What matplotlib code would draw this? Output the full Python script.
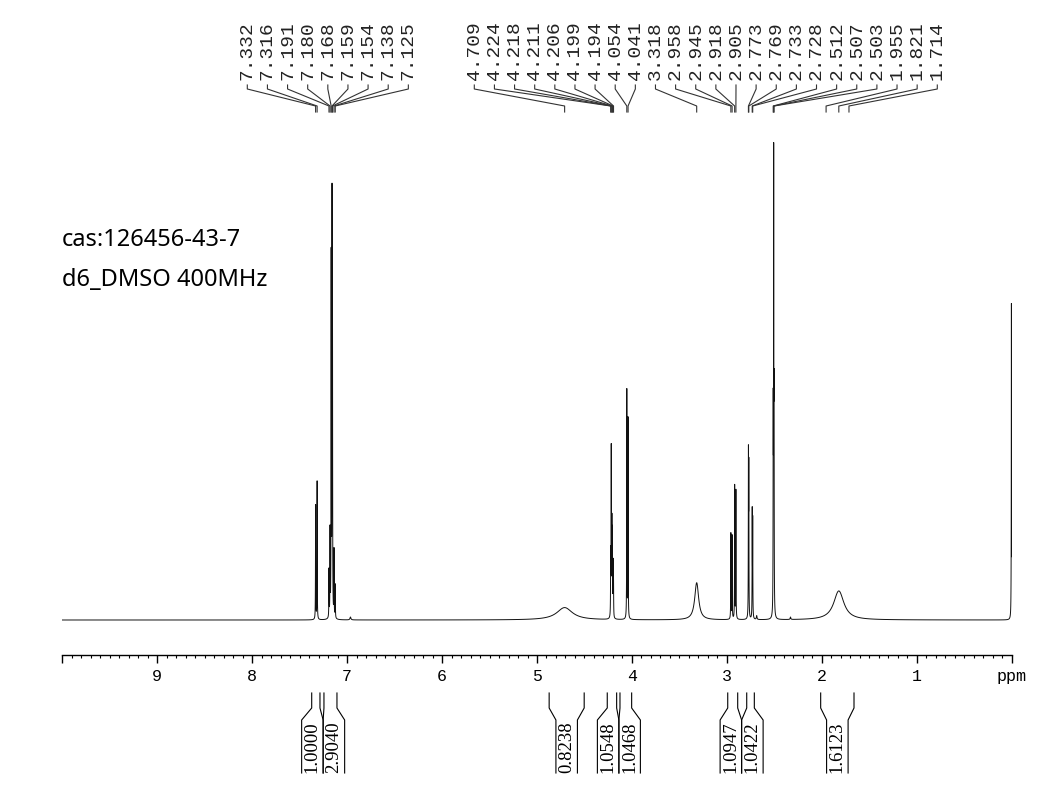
import numpy as np
import matplotlib
matplotlib.use("Agg")
import matplotlib.pyplot as plt
from matplotlib.transforms import blended_transform_factory

# 1H NMR, d6-DMSO 400 MHz
SAMPLE_TEXT = ["cas:126456-43-7", "d6_DMSO 400MHz"]

# resolved lines: position (ppm), height (DMSO = 100), half width (ppm)
peak_ppm = [7.332, 7.316, 7.191, 7.180, 7.168, 7.159, 7.154, 7.138, 7.125, 6.965,
            4.709, 4.224, 4.218, 4.211, 4.206, 4.199, 4.194, 4.054, 4.041,
            3.318, 2.958, 2.945, 2.918, 2.905, 2.773, 2.769, 2.733, 2.728, 2.686,
            2.512, 2.507, 2.503, 2.330, 1.821, 0.003]
peak_height = [24, 29, 10, 18, 75, 85, 55, 14, 7, 0.6,
               2.6, 13, 35, 19, 17, 11, 7, 48, 42,
               7.8, 18, 17.5, 28, 27, 33, 30, 22, 20, 0.8,
               40, 92, 40, 0.5, 6.1, 66.5]
peak_hwhm = [0.0015] * 9 + [0.006,
             0.1] + [0.0015] * 8 + [
             0.025] + [0.0015] * 8 + [0.004,
             0.0015, 0.0015, 0.0015, 0.004, 0.065, 0.0015]

# peak pick labels (two label groups)
pick_group1 = ["7.332", "7.316", "7.191", "7.180", "7.168", "7.159", "7.154", "7.138", "7.125"]
pick_group2 = ["4.709", "4.224", "4.218", "4.211", "4.206", "4.199", "4.194", "4.054", "4.041",
               "3.318", "2.958", "2.945", "2.918", "2.905", "2.773", "2.769", "2.733", "2.728",
               "2.512", "2.507", "2.503", "1.955", "1.821", "1.714"]

# integrals: (from, to) ppm and value
int_from = [7.373, 7.244, 4.872, 4.260, 4.126, 2.991, 2.791, 2.012]
int_to = [7.286, 7.107, 4.503, 4.161, 4.003, 2.886, 2.711, 1.661]
int_value = ["1.0000", "2.9040", "0.8238", "1.0548", "1.0468", "1.0947", "1.0422", "1.6123"]

W, H = 1061, 810
X_LEFT, X_RIGHT = 62.3, 1011.7   # pixel of 10 ppm and 0 ppm
PX_PER_PPM = (X_RIGHT - X_LEFT) / 10.0


def fy(py):
    return 1 - py / H


def px2ppm(px):
    return (X_RIGHT - px) / PX_PER_PPM


def spectrum(x):
    y = np.zeros_like(x)
    for p, h, w in zip(peak_ppm, peak_height, peak_hwhm):
        y += h / (1 + ((x - p) / w) ** 2)
    return y


def spread_boxes(centers, width):
    c = list(centers)
    for _ in range(50):
        moved = False
        for i in range(len(c) - 1):
            gap = c[i] - c[i + 1]
            if gap < width - 1e-9:
                d = (width - gap) / 2
                c[i] += d
                c[i + 1] -= d
                moved = True
        if not moved:
            break
    return c


plt.rcParams["path.simplify"] = False
fig = plt.figure(figsize=(W / 100, H / 100), dpi=100)

# spectrum axes: bottom spine is the ppm scale at y=655 px, baseline at 620 px
base_px, axis_px, top_px = 620, 655, 112
scale = 4.76  # px per intensity unit
ax = fig.add_axes([X_LEFT / W, fy(axis_px), (X_RIGHT - X_LEFT) / W, (axis_px - top_px) / H])
ax.set_xlim(10, 0)
ax.set_ylim(-(axis_px - base_px) / scale, (base_px - top_px) / scale)

x = np.linspace(10, 0, 40001)
ax.plot(x, spectrum(x), color="#111111", lw=0.7)

for s in ["top", "left", "right"]:
    ax.spines[s].set_visible(False)
ax.spines["bottom"].set_linewidth(1.0)
ax.set_yticks([])
ax.set_xticks(range(0, 11))
ax.set_xticklabels(["ppm"] + [str(i) for i in range(1, 10)] + [""],
                   fontfamily="Liberation Mono", fontsize=12)
ax.set_xticks(np.arange(0, 10.01, 0.1), minor=True)
ax.tick_params(axis="x", which="major", direction="out", length=6, width=1, pad=4)
ax.tick_params(axis="x", which="minor", direction="out", length=2.5, width=0.8)

trans = blended_transform_factory(ax.transData, fig.transFigure)

# peak pick labels
step = 20.13 / PX_PER_PPM
groups = [(pick_group1, px2ppm(247.3)), (pick_group2, px2ppm(474.3))]
for labels, start in groups:
    for i, lab in enumerate(labels):
        lx = start - i * step
        p = float(lab)
        ax.text(lx, fy(80), lab, transform=trans, rotation=90, ha="center", va="bottom",
                fontfamily="Liberation Mono", fontsize=14, color="#222222")
        ax.plot([lx, lx, p, p], [fy(85), fy(89), fy(106), fy(112)], transform=trans,
                color="#333333", lw=0.8, clip_on=False)

# integrals
box_w = 21.5 / PX_PER_PPM
centers = [(a + b) / 2 for a, b in zip(int_from, int_to)]
boxes = spread_boxes(centers, box_w)
for a, b, c, v in zip(int_from, int_to, boxes, int_value):
    l, r = c + box_w / 2, c - box_w / 2
    ax.plot([a, a, l, l], [fy(693), fy(708), fy(720), fy(773)], transform=trans,
            color="black", lw=0.8, clip_on=False)
    ax.plot([b, b, r, r], [fy(693), fy(708), fy(720), fy(773)], transform=trans,
            color="black", lw=0.8, clip_on=False)
    ax.text(c, fy(747), v, transform=trans, rotation=90, ha="center", va="center",
            fontfamily="Liberation Serif", fontsize=13.5, color="black")

fig.text(62 / W, fy(240), SAMPLE_TEXT[0], ha="left", va="center",
         fontfamily="Noto Sans", fontsize=17)
fig.text(62 / W, fy(280), SAMPLE_TEXT[1], ha="left", va="center",
         fontfamily="Noto Sans", fontsize=17)

fig.savefig("out.png", dpi=100)
